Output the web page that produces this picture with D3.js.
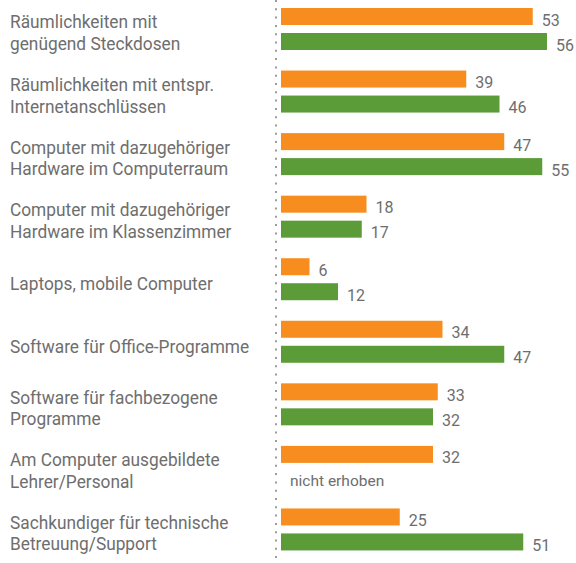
<!DOCTYPE html>
<html>
<head>
<meta charset="utf-8">
<script src="https://cdn.jsdelivr.net/npm/d3@7"></script>
<style>
  html, body { margin: 0; padding: 0; background: #fff; }
  svg { display: block; }
</style>
</head>
<body>
<script>
// Ausstattungsmerkmale (Zeilenumbrüche als Teilzeilen)
const categories = [
  ["Räumlichkeiten mit", "genügend Steckdosen"],
  ["Räumlichkeiten mit entspr.", "Internetanschlüssen"],
  ["Computer mit dazugehöriger", "Hardware im Computerraum"],
  ["Computer mit dazugehöriger", "Hardware im Klassenzimmer"],
  ["Laptops, mobile Computer"],
  ["Software für Office-Programme"],
  ["Software für fachbezogene", "Programme"],
  ["Am Computer ausgebildete", "Lehrer/Personal"],
  ["Sachkundiger für technische", "Betreuung/Support"]
];
// Anteile in Prozent, erste und zweite Erhebung (null = nicht erhoben)
const valuesFirst  = [53, 39, 47, 18, 6, 34, 33, 32, 25];
const valuesSecond = [56, 46, 55, 17, 12, 47, 32, null, 51];
const seriesKeys = ["first", "second"];
const missingText = "nicht erhoben";

const W = 576, H = 563;
const colors = { first: "#F68D1E", second: "#5B9B38" };
const textColor = "#6E6E6E";

const svg = d3.select("body").append("svg")
  .attr("width", W).attr("height", H);

const idx = categories.map((d, i) => i);
const y = d3.scaleBand().domain(idx).range([0, H]).paddingInner(0).paddingOuter(0);
const ySub = d3.scaleBand().domain(seriesKeys).range([8, 50]).paddingInner(0.32).paddingOuter(0);
const x = d3.scaleLinear().domain([0, 60]).range([281, 281 + 285]);

// gepunktete Grundlinie
svg.append("line")
  .attr("x1", 276).attr("x2", 276)
  .attr("y1", 0).attr("y2", H)
  .attr("stroke", "#9c9c9c")
  .attr("stroke-width", 2)
  .attr("stroke-dasharray", "2,6.3");

const rows = idx.map(i => ({
  i,
  lines: categories[i],
  first: valuesFirst[i],
  second: valuesSecond[i]
}));

const groups = svg.selectAll("g.row").data(rows).join("g")
  .attr("class", "row")
  .attr("transform", d => `translate(0,${y(d.i)})`);

// Beschriftung links
const label = groups.append("text")
  .attr("transform", "translate(10,0) scale(0.91,1)")
  .attr("font-family", "Roboto, 'Liberation Sans', sans-serif")
  .attr("font-size", 19)
  .attr("fill", textColor);
label.each(function(d) {
  const t = d3.select(this);
  const base = d.lines.length === 1 ? [40] : [28.5, 50];
  d.lines.forEach((ln, k) => {
    t.append("tspan").attr("x", 0).attr("y", base[k]).text(ln);
  });
});

// Balken und Werte
seriesKeys.forEach(key => {
  const withVal = rows.filter(r => r[key] != null);
  groups.filter(r => r[key] != null).append("rect")
    .attr("x", x(0))
    .attr("y", ySub(key))
    .attr("width", d => x(d[key]) - x(0))
    .attr("height", ySub.bandwidth())
    .attr("fill", colors[key]);
  groups.filter(r => r[key] != null).append("text")
    .attr("x", d => x(d[key]) + 9)
    .attr("y", ySub(key) + ySub.bandwidth() + 0.5)
    .attr("font-family", "Roboto, 'Liberation Sans', sans-serif")
    .attr("font-size", 16)
    .attr("fill", textColor)
    .text(d => d[key]);
  groups.filter(r => r[key] == null).append("text")
    .attr("x", x(0) + 9)
    .attr("y", ySub(key) + ySub.bandwidth() - 2)
    .attr("font-family", "Roboto, 'Liberation Sans', sans-serif")
    .attr("font-size", 15.5)
    .attr("fill", textColor)
    .text(missingText);
});
</script>
</body>
</html>
